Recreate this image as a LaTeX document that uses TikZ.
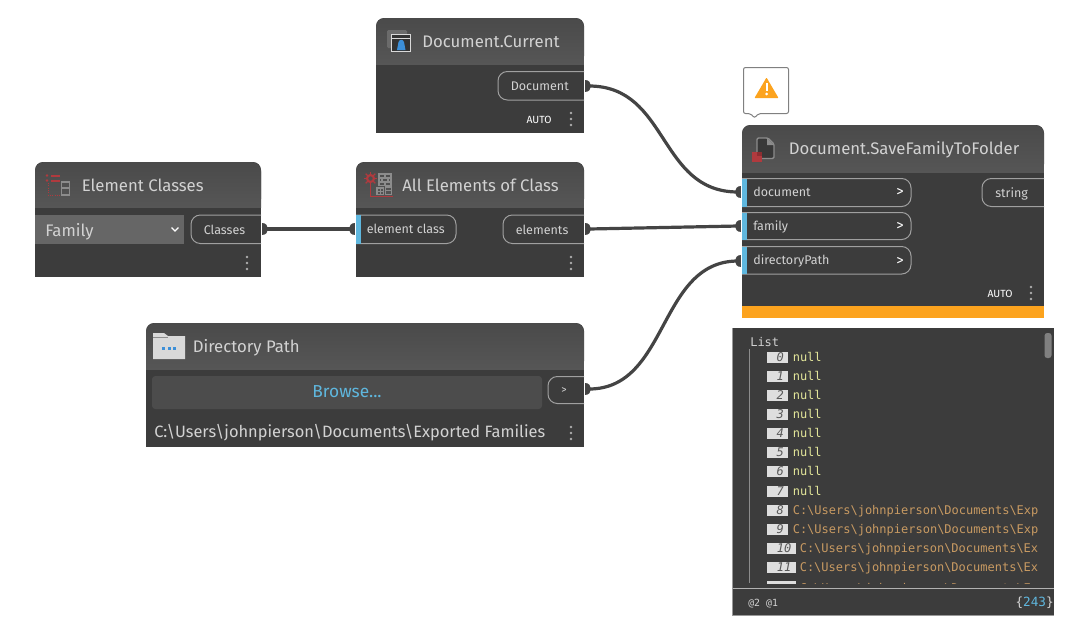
\documentclass[tikz,border=0pt]{standalone}
\usepackage{fontspec}
\setmainfont{Fira Sans}
\newfontfamily\monof{DejaVu Sans Mono}
\definecolor{hdtop}{HTML}{4A4A4A}
\definecolor{hdbot}{HTML}{565656}
\definecolor{bodyc}{HTML}{3C3C3C}
\definecolor{txtc}{HTML}{D2D2D2}
\definecolor{pillc}{HTML}{A0A0A0}
\definecolor{wirec}{HTML}{444444}
\definecolor{portblue}{HTML}{5FB7DE}
\definecolor{orangec}{HTML}{FCA31E}
\definecolor{nullc}{HTML}{E3E69A}
\definecolor{pathc}{HTML}{C89A62}
\definecolor{iconred}{HTML}{B03A3E}
\definecolor{iconblue}{HTML}{3C8FD8}
\tikzset{
  title/.style={anchor=base west,inner sep=0,text=txtc,font=\fontsize{12.55pt}{14pt}\selectfont},
  port/.style={anchor=base west,inner sep=0,text=txtc,font=\fontsize{9.4pt}{11pt}\selectfont},
  chev/.style={anchor=base west,inner sep=0,text=white,font=\fontsize{11pt}{12pt}\selectfont},
  pill/.style={draw=pillc,line width=0.75pt,rounded corners=7pt},
  wire/.style={draw=wirec,line width=2.4pt},
  tip/.style={circle,inner sep=0,minimum size=1pt},
  monot/.style={anchor=base west,inner sep=0,font=\monof\fontsize{9pt}{10pt}\selectfont},
  idx/.style={anchor=base east,inner sep=0,text=black!65,font=\monof\itshape\fontsize{9pt}{10pt}\selectfont},
  auto label/.style={inner sep=0,text=white,font=\fontsize{7.8pt}{9pt}\selectfont}
}
% x1 y1 x2 y2 yheader
\newcommand{\dnbody}[5]{
  \fill[bodyc,rounded corners=6pt] (#1,#2) -- (#3,#2) -- (#3,#5) -- (#1,#5) -- cycle;
  \fill[bodyc] (#1,#5-12) rectangle (#3,#4);
  \begin{scope}
    \clip[rounded corners=7pt] (#1,#2) -- (#3,#2) -- (#3,#5+12) -- (#1,#5+12) -- cycle;
    \shade[top color=hdtop,bottom color=hdbot] (#1,#2) rectangle (#3,#5);
  \end{scope}
}
\newcommand{\kebab}[2]{
  \foreach \k in {-6,0,6} \fill[pillc!85] (#1,#2+\k) circle (1.05pt);
}
% output pill x1 y1 x2 y2
\newcommand{\outpill}[4]{\draw[pill] (#3,#2) -- (#1,#2) -- (#1,#4) -- (#3,#4);}
\newcommand{\inpill}[4]{
  \draw[pill] (#1,#2) -- (#3,#2) -- (#3,#4) -- (#1,#4);
  \fill[portblue] (#1,#2) rectangle (#1+4.5,#4);
}
\newcommand{\outtip}[3]{
  \fill[wirec] (#2,#3-6) .. controls (#2+8,#3-6) and (#2+8,#3+6) .. (#2,#3+6) -- cycle;
  \node[tip] (#1) at (#2+4,#3) {};
}
\newcommand{\intip}[3]{
  \fill[wirec] (#2,#3-6) .. controls (#2-8,#3-6) and (#2-8,#3+6) .. (#2,#3+6) -- cycle;
  \node[tip] (#1) at (#2-3,#3) {};
}
\begin{document}
\begin{tikzpicture}[x=0.75pt,y=-0.75pt]
\useasboundingbox (0,0) rectangle (1080,626);
\fill[white] (0,0) rectangle (1080,626);

\dnbody{376}{18}{584}{133}{64}
\dnbody{35}{162}{261}{277}{207}
\dnbody{356}{162}{584}{277}{207}
\dnbody{742}{125}{1044}{306}{172}
\dnbody{146}{323}{584}{447}{369}
\fill[orangec] (742,306) rectangle (1044,318);

% ---- Document.Current
\node[title] (curT) at (422,47) {Document.Current};
\outpill{498}{71.5}{584}{100}
\node[port] (curP) at (510.5,90) {Document};
\outtip{curOut}{585}{86}
\node[auto label] (curA) at (539,119.5) {AUTO};
\kebab{571}{119}
% icon
\fill[black!58,rounded corners=1pt] (387,30) rectangle (407,48);
\fill[black!80] (391,34) rectangle (411,52);
\draw[black!15,line width=0.9pt] (391.5,34.5) rectangle (410.5,51.5);
\draw[black!15,line width=0.9pt] (391.5,38.5) -- (410.5,38.5);
\fill[iconblue] (397,50) -- (398.5,42) .. controls (399.5,39) and (403,39) .. (404,42) -- (405.5,50) -- cycle;

% ---- Element Classes
\node[title] (ecT) at (81.5,191) {Element Classes};
\fill[black!60] (35,215) rectangle (184,243.5);
\node[title] (ecF) at (45,236) {Family};
\draw[white,line width=1pt] (171.5,227.5) -- (175,231) -- (178.5,227.5);
\outpill{191}{215}{261}{243.5}
\node[port] (ecP) at (203.5,234) {Classes};
\outtip{ecOut}{262}{229}
\kebab{247}{263}
% icon
\fill[iconred] (47,175.5) circle (1pt);
\fill[iconred] (50.5,175) rectangle (60,177);
\fill[iconred] (47,180.5) circle (1pt);
\fill[iconred] (50.5,179.5) rectangle (60,181.5);
\draw[iconred,densely dotted,line width=0.75pt] (48,183) -- (48,195) -- (66,195);
\draw[black!45,line width=0.9pt] (61.5,182) rectangle (69.5,195);
\draw[black!45,line width=0.9pt] (61.5,188) -- (69.5,188);

% ---- All Elements of Class
\node[title] (aeT) at (402,191) {All Elements of Class};
\inpill{356}{215}{456}{243.5}
\node[port] (aeI) at (366.5,233.5) {element class};
\intip{aeIn}{355}{229}
\outpill{503}{215}{584}{243.5}
\node[port] (aeP) at (515.5,234) {elements};
\outtip{aeOut}{585}{229}
\kebab{571}{263}
% icon
\draw[iconred,line width=1.6pt] (370.5,178.5) circle (2.6pt);
\foreach \a in {0,45,...,315}
  \draw[iconred,line width=1pt] (370.5,178.5) ++(\a:4.2) -- ++(\a:2.6);
\draw[iconred,line width=0.75pt] (370.5,185) -- (370.5,196) -- (393,196);
\foreach \yy in {174,178,182} \draw[black!45,line width=0.9pt] (379,\yy) rectangle (391,\yy+3.5);
\draw[black!45,line width=0.8pt] (385,174) -- (385,177.5) (382,178) -- (382,181.5) (388,178) -- (388,181.5) (385,182) -- (385,185.5);
\draw[black!45,line width=0.8pt] (377,188) rectangle (383.5,194.5) (380.2,188) -- (380.2,194.5) (377,191.2) -- (383.5,191.2);
\draw[black!45,line width=0.8pt] (385.5,187) rectangle (391.5,194.5) (385.5,190.5) -- (391.5,190.5);

% ---- Warning bubble
\draw[black!50,fill=white,line width=0.75pt,rounded corners=1.5pt] (743.5,67.5) -- (788.5,67.5) -- (788.5,113.5) -- (758.5,113.5) -- (754.5,118) -- (750.5,113.5) -- (743.5,113.5) -- cycle;
\fill[orangec,rounded corners=0.5pt] (766.5,77.5) -- (778.5,98) -- (754.5,98) -- cycle;
\fill[white] (765.5,83) rectangle (767.8,91);
\fill[white] (766.6,94) circle (1.1pt);

% ---- Document.SaveFamilyToFolder
\node[title] (svT) at (788.5,154) {Document.SaveFamilyToFolder};
\inpill{742}{178.5}{911}{206.5}
\node[port] (svA) at (753,196) {document};
\node[chev] (svA2) at (896,196.5) {>};
\intip{svIn1}{741}{192}
\inpill{742}{212.5}{911}{239.5}
\node[port] (svB) at (753,230) {family};
\node[chev] (svB2) at (896,230) {>};
\intip{svIn2}{741}{226}
\inpill{742}{246.5}{911}{274}
\node[port] (svC) at (753,264) {directoryPath};
\node[chev] (svC2) at (896,265) {>};
\intip{svIn3}{741}{261}
\outpill{982}{178.5}{1044}{206.5}
\node[port] (svP) at (995,197) {string};
\node[auto label] (svAu) at (1000,293.5) {AUTO};
\kebab{1031}{293}
% icon
\draw[black!45,line width=1pt,fill=black!78,rounded corners=1pt] (757,138) -- (768,138) -- (774,144) -- (774,158.5) -- (757,158.5) -- cycle;
\fill[black!45] (767,138) -- (767,145) -- (774,145) -- cycle;
\fill[iconred] (752,152) rectangle (762,162);
\fill[black!20!iconred] (756.5,152) rectangle (762,156);

% ---- Directory Path
\node[title] (dpT) at (192.5,352) {Directory Path};
\fill[black!15] (153,337) -- (153,333) -- (164,333) -- (168,336) -- (185,336) -- (185,359) -- (153,359) -- cycle;
\draw[black!45,line width=0.5pt] (153,337) -- (168,337);
\foreach \xx in {162,167.5,173} \fill[iconblue] (\xx,347) rectangle (\xx+3,350);
\fill[black!70,rounded corners=2.5pt] (152,376) rectangle (542,409);
\node[anchor=center,inner sep=0,text=portblue,font=\fontsize{13pt}{15pt}\selectfont] (dpB) at (347,392) {Browse...};
\outpill{548}{376.5}{584}{403.5}
\node[port,font=\fontsize{8pt}{9pt}\selectfont] (dpG) at (561,393) {>};
\outtip{dpOut}{585}{389}
\node[title,font=\fontsize{12.3pt}{14pt}\selectfont] (dpV) at (154,437) {C:\textbackslash Users\textbackslash johnpierson\textbackslash Documents\textbackslash Exported Families};
\kebab{571}{433}

% ---- wires
\draw[wire] (curOut.center) .. controls +(80,0) and +(-80,0) .. (svIn1.center);
\draw[wire] (ecOut.center) -- (aeIn.center);
\draw[wire] (aeOut.center) -- (svIn2.center);
\draw[wire] (dpOut.center) .. controls +(80,0) and +(-80,0) .. (svIn3.center);

% ---- Watch panel
\fill[bodyc] (732,328) rectangle (1054,615);
\draw[black!40,line width=0.75pt] (732.5,328) -- (732.5,615) -- (1054,615);
\draw[black!30,line width=0.75pt] (733,588.5) -- (1054,588.5);
\fill[black!50,rounded corners=2pt] (1044.5,333) rectangle (1051.5,358);
\draw[black!45,line width=0.75pt] (749.5,349) -- (749.5,583);
\node[monot,text=txtc] (wL) at (750,346) {List};
\foreach \n/\yy in {0/357,1/376,2/395,3/414.5,4/433.5,5/452.5,6/471.5,7/491}{
  \fill[black!13] (767,\yy-5.5) rectangle (788,\yy+5.5);
  \node[idx] at (784,\yy+4) {\n};
  \node[monot,text=nullc] at (792.5,\yy+4) {null};
}
\foreach \n/\yy in {8/510,9/529}{
  \fill[black!13] (767,\yy-5.5) rectangle (788,\yy+5.5);
  \node[idx] at (784,\yy+4) {\n};
  \node[monot,text=pathc] at (792.5,\yy+4) {C:\textbackslash Users\textbackslash johnpierson\textbackslash Documents\textbackslash Exp};
}
\foreach \n/\yy in {10/548,11/567}{
  \fill[black!13] (767,\yy-5.5) rectangle (796,\yy+5.5);
  \node[idx] at (791.5,\yy+4) {\n};
  \node[monot,text=pathc] at (799.5,\yy+4) {C:\textbackslash Users\textbackslash johnpierson\textbackslash Documents\textbackslash Ex};
}
\begin{scope}
  \clip (733,575) rectangle (1054,583.2);
  \fill[black!13] (767,581) rectangle (796,592);
  \node[monot,text=pathc] at (799.5,592) {C:\textbackslash Users\textbackslash johnpierson\textbackslash Documents\textbackslash Ex};
\end{scope}
\node[monot,text=txtc,font=\monof\fontsize{7.4pt}{8pt}\selectfont] (wA) at (748,606) {@2 @1};
\node[anchor=base east,inner sep=0,font=\monof\fontsize{9.5pt}{10pt}\selectfont] (wC) at (1054,606.5) {\textcolor{txtc}{\{}\textcolor{portblue}{243}\textcolor{txtc}{\}}};
\end{tikzpicture}
\end{document}
